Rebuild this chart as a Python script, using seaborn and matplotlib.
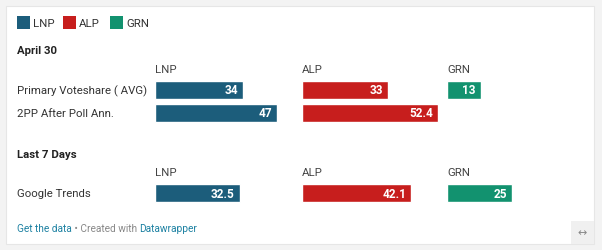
import matplotlib
matplotlib.use("Agg")
import matplotlib.pyplot as plt
from matplotlib.patches import Rectangle
import numpy as np
import pandas as pd
import seaborn as sns

# ---- data ----
parties = ["LNP", "ALP", "GRN"]
party_colors = ["#1c5d7b", "#c71e1d", "#12926f"]

section1_title = "April 30"
section1_rows = ["Primary Voteshare ( AVG)", "2PP After Poll Ann."]
section1_lnp = [34, 47]
section1_alp = [33, 52.4]
section1_grn = [13, np.nan]

section2_title = "Last 7 Days"
section2_rows = ["Google Trends"]
section2_lnp = [32.5]
section2_alp = [42.1]
section2_grn = [25]

footer_link1 = "Get the data"
footer_mid = " • Created with "
footer_link2 = "Datawrapper"

# ---- figure ----
sns.set_theme(style="white")
plt.rcParams["font.family"] = ["Roboto", "DejaVu Sans"]

W, H = 602, 251
fig = plt.figure(figsize=(W / 100, H / 100), dpi=100)
fig.patch.set_facecolor("#f3f3f3")


def fx(x):
    return x / W


def fy(y):
    return 1 - y / H


# white card
fig.patches.append(Rectangle((fx(6), fy(245)), fx(594) - fx(6), fy(7) - fy(245),
                             transform=fig.transFigure, facecolor="white",
                             edgecolor="#e6e6e6", linewidth=0.8, zorder=-10))

TEXT = "#333333"
LFS = 8.2

# legend
leg_x = [17, 63, 110]
for px_, name, col in zip(leg_x, parties, party_colors):
    fig.patches.append(Rectangle((fx(px_), fy(30)), fx(13), 13 / H,
                                 transform=fig.transFigure, facecolor=col,
                                 edgecolor="none", zorder=2))
    fig.text(fx(px_ + 16), fy(24), name, ha="left", va="center",
             fontsize=LFS, color=TEXT)

col_x = [155, 302, 447]
PX_PER_UNIT = 2.6
COL_W = 140


def draw_section(title, title_y, header_y, rows, values, bar_top, row_step=23, bar_h=18):
    fig.text(fx(17), fy(title_y), title, ha="left", va="center",
             fontsize=LFS, fontweight="bold", color="#222222")
    n = len(rows)
    for i, r in enumerate(rows):
        fig.text(fx(17), fy(bar_top + i * row_step + bar_h / 2), r,
                 ha="left", va="center", fontsize=LFS, color=TEXT)
    ax_top = bar_top - (row_step - bar_h) / 2
    ax_bottom = ax_top + n * row_step
    for j, (party, col) in enumerate(zip(parties, party_colors)):
        fig.text(fx(col_x[j]), fy(header_y), party, ha="left", va="center",
                 fontsize=LFS, color="#444444")
        df = pd.DataFrame({"row": rows, "value": values[j]})
        ax = fig.add_axes([fx(col_x[j]), fy(ax_bottom), COL_W / W,
                           (ax_bottom - ax_top) / H])
        ax.set_zorder(1)
        sns.barplot(data=df, x="value", y="row", order=rows, orient="h",
                    color=col, saturation=1, width=bar_h / row_step, ax=ax,
                    errorbar=None)
        ax.set_xlim(0, COL_W / PX_PER_UNIT)
        ax.set_ylim(n - 0.5, -0.5)
        ax.axis("off")
        for i, v in enumerate(values[j]):
            if pd.notna(v):
                ax.text(v - 5 / PX_PER_UNIT, i, f"{v:g}", ha="right", va="center",
                        fontsize=8.5, fontweight="bold", color="white")


draw_section(section1_title, 51, 70, section1_rows,
             [section1_lnp, section1_alp, section1_grn], bar_top=82)
draw_section(section2_title, 155, 173, section2_rows,
             [section2_lnp, section2_alp, section2_grn], bar_top=185)

# footer
FS = 7.3
t1 = fig.text(fx(17), fy(229), footer_link1, ha="left", va="center",
              fontsize=FS, color="#1d81a2")
fig.canvas.draw()
r = fig.canvas.get_renderer()
bb = t1.get_window_extent(r)
t2 = fig.text(bb.x1 / W, fy(229), footer_mid, ha="left", va="center",
              fontsize=FS, color="#888888")
bb2 = t2.get_window_extent(r)
fig.text(bb2.x1 / W, fy(229), footer_link2, ha="left", va="center",
         fontsize=FS, color="#1d81a2")

# resize icon box
fig.patches.append(Rectangle((fx(571), fy(245)), fx(23), 23 / H,
                             transform=fig.transFigure, facecolor="#f0f0f0",
                             edgecolor="none", zorder=1))
fig.text(fx(582.5), fy(233.5), "↔", ha="center", va="center",
         fontsize=8, color="#888888", family="DejaVu Sans")

fig.savefig("out.png", dpi=100, facecolor=fig.get_facecolor())
